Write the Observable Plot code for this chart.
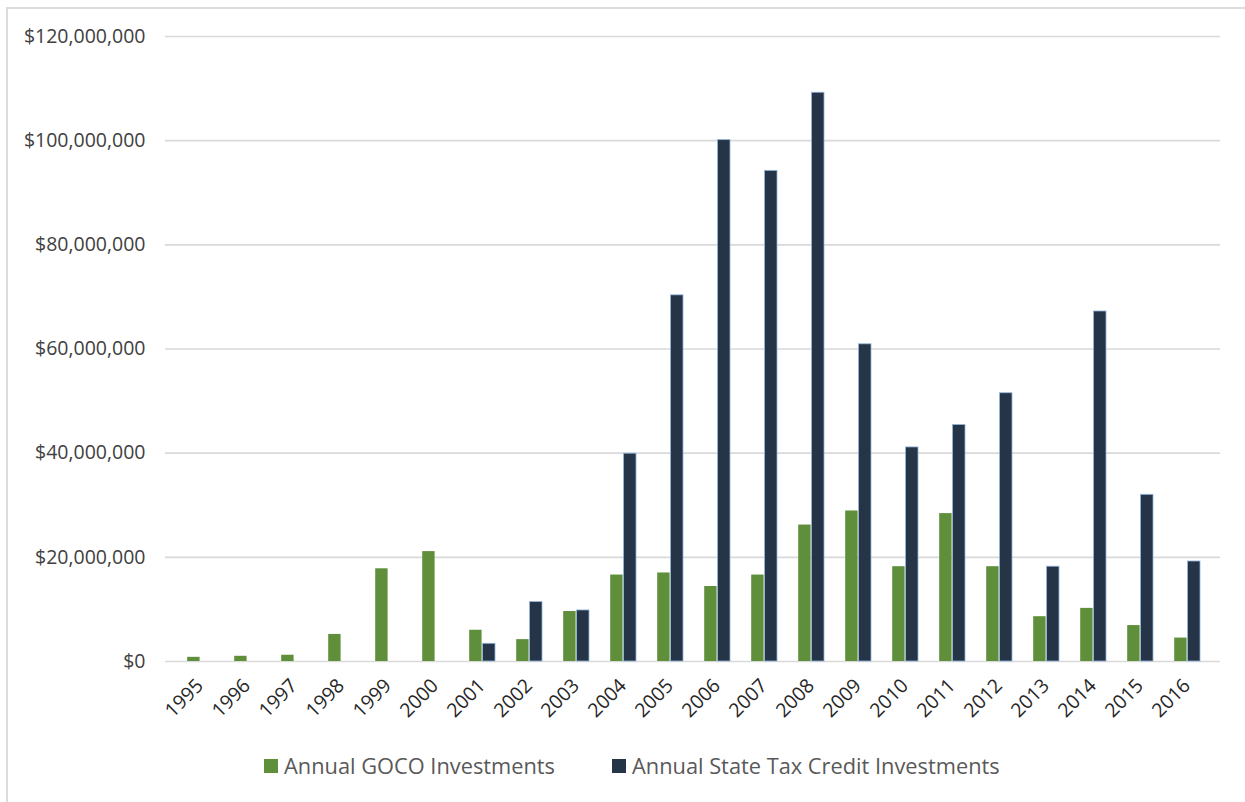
<!DOCTYPE html>
<html>
<head>
<meta charset="utf-8">
<script src="https://cdn.jsdelivr.net/npm/d3@7"></script>
<script src="https://cdn.jsdelivr.net/npm/@observablehq/plot@0.6"></script>
<style>
  html, body { margin: 0; padding: 0; background: #fff; }
  body { width: 1245px; height: 802px; position: relative; overflow: hidden; font-family: "Open Sans", sans-serif; }
  #frame { position: absolute; left: 6px; top: 7px; right: 0; bottom: 0; border-left: 2px solid #dcdcdc; border-top: 2px solid #dcdcdc; pointer-events: none; }
  #chart { position: absolute; left: 0; top: 0; }
  #chart svg { overflow: visible; }
  #legend { position: absolute; left: 264px; top: 751px; display: flex; align-items: center; font-size: 21.8px; color: #595959; }
  .item { display: flex; align-items: center; }
  .sw { width: 14px; height: 14px; margin-right: 6px; }
</style>
</head>
<body>
<div id="chart"></div>
<div id="legend"></div>
<div id="frame"></div>
<script>
const years = ["1995","1996","1997","1998","1999","2000","2001","2002","2003","2004","2005","2006","2007","2008","2009","2010","2011","2012","2013","2014","2015","2016"];
const gocoInvestments = [0.8e6, 1.0e6, 1.2e6, 5.2e6, 17.8e6, 21.1e6, 6.0e6, 4.2e6, 9.6e6, 16.6e6, 17.0e6, 14.4e6, 16.6e6, 26.2e6, 28.9e6, 18.2e6, 28.4e6, 18.2e6, 8.6e6, 10.2e6, 6.9e6, 4.5e6];
const taxCreditInvestments = [0, 0, 0, 0, 0, 0, 3.4e6, 11.4e6, 9.8e6, 39.9e6, 70.3e6, 100.1e6, 94.2e6, 109.2e6, 60.9e6, 41.1e6, 45.4e6, 51.5e6, 18.2e6, 67.2e6, 32.0e6, 19.2e6];
const yTicks = [0, 20e6, 40e6, 60e6, 80e6, 100e6, 120e6];
const seriesNames = ["Annual GOCO Investments", "Annual State Tax Credit Investments"];
const seriesColors = ["#5f8f3b", "#263447"];

const rows = years.map((y, i) => ({year: y, goco: gocoInvestments[i], tax: taxCreditInvestments[i]}));
const money = d => "$" + d3.format(",")(d);

const chart = Plot.plot({
  width: 1245,
  height: 745,
  marginLeft: 165,
  marginRight: 25,
  marginTop: 36,
  marginBottom: 84,
  style: {fontFamily: "Open Sans, sans-serif", background: "transparent"},
  x: {type: "band", domain: years, padding: 0, label: null},
  y: {domain: [0, 120e6], label: null},
  marks: [
    Plot.gridY(yTicks, {stroke: "#d9d9d9", strokeOpacity: 1, strokeWidth: 1.6}),
    Plot.barY(rows, {x: "year", y: "goco", fill: seriesColors[0], insetLeft: 11.2, insetRight: 23.4}),
    Plot.barY(rows, {filter: d => d.tax > 0, x: "year", y: "tax", fill: seriesColors[1], stroke: "#8fb4d9", strokeWidth: 0.8, insetLeft: 24.6, insetRight: 10}),
    Plot.axisY({ticks: yTicks, tickFormat: money, tickSize: 0, tickPadding: 20, fontSize: 19.5, fill: "#404040", label: null}),
    Plot.axisX({tickRotate: -45, tickSize: 0, tickPadding: 21, dx: 0, fontSize: 19.5, fill: "#262626", label: null})
  ]
});
document.getElementById("chart").appendChild(chart);

const legend = document.getElementById("legend");
seriesNames.forEach((name, i) => {
  const item = document.createElement("div");
  item.className = "item";
  if (i > 0) item.style.marginLeft = "57px";
  const sw = document.createElement("div");
  sw.className = "sw";
  sw.style.background = seriesColors[i];
  item.appendChild(sw);
  const t = document.createElement("span");
  t.textContent = name;
  item.appendChild(t);
  legend.appendChild(item);
});
</script>
</body>
</html>
